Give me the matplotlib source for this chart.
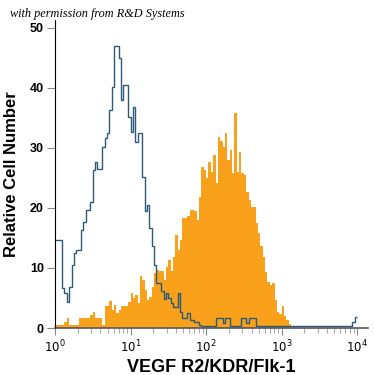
import numpy as np
import matplotlib
matplotlib.use("Agg")
import matplotlib.pyplot as plt
from matplotlib.ticker import LogLocator, NullFormatter, FixedLocator

# 128 log-spaced channels over four decades
decades = [0, 4]
n_bins = 128

# isotype control (outline), counts per channel
control_counts = [
    14.7, 14.7, 14.7, 6.7, 5.8, 4.4, 6.9, 10.5, 12.5, 13.0,
    13.0, 16.3, 17.7, 19.7, 19.7, 21.0, 26.3, 27.7, 26.5, 26.5,
    30.2, 31.6, 32.5, 36.3, 40.2, 47.0, 47.0, 45.0, 38.0, 40.5,
    40.5, 35.2, 32.7, 36.8, 31.0, 32.5, 32.5, 25.2, 19.5, 20.5,
    16.7, 13.6, 10.5, 7.5, 7.5, 6.1, 4.8, 5.8, 5.0, 4.2,
    3.5, 3.5, 5.8, 2.7, 1.7, 1.7, 2.5, 1.3, 1.3, 1.0,
    1.0, 0.5, 0.4, 0.4, 0.4, 0.4, 0.4, 0.4, 1.6, 1.6,
    1.6, 0.8, 1.6, 1.6, 0.4, 0.4, 0.4, 0.4, 0.4, 1.6,
    1.6, 0.8, 1.6, 1.6, 1.6, 0.4, 0.4, 0.4, 0.4, 0.4,
    0.4, 0.4, 0.4, 0.4, 0.4, 0.4, 0.4, 0.4, 0.4, 0.4,
    0.4, 0.4, 0.4, 0.4, 0.4, 0.4, 0.4, 0.4, 0.4, 0.4,
    0.4, 0.4, 0.4, 0.4, 0.4, 0.4, 0.4, 0.4, 0.4, 0.4,
    0.4, 0.4, 0.4, 0.4, 0.4, 0.4, 1.0, 1.8,
]

# VEGF R2 stained cells (filled), counts per channel
stained_counts = [
    0.5, 0.5, 0.5, 0.5, 1.0, 1.6, 0.5, 0.5, 0.5, 0.5,
    1.6, 1.6, 1.6, 1.6, 1.6, 2.2, 2.6, 1.6, 1.6, 1.6,
    0.5, 3.6, 3.6, 4.5, 3.0, 3.8, 2.5, 3.0, 3.7, 3.6,
    3.6, 4.4, 5.8, 5.0, 5.5, 4.1, 8.6, 8.0, 6.3, 4.7,
    5.2, 6.9, 9.1, 9.7, 9.5, 9.5, 8.0, 10.2, 11.4, 9.5,
    11.9, 15.5, 13.0, 14.7, 18.3, 18.3, 18.6, 19.7, 19.7, 19.5,
    18.0, 21.9, 26.9, 26.3, 25.0, 27.7, 26.0, 28.8, 24.2, 31.8,
    31.1, 30.2, 32.4, 28.0, 29.7, 25.8, 35.8, 26.0, 29.4, 25.8,
    25.5, 22.7, 21.3, 20.2, 20.2, 17.5, 15.8, 13.6, 11.9, 9.4,
    7.7, 7.2, 7.5, 4.7, 2.7, 2.4, 3.6, 2.0, 1.3, 0.6,
] + [0.0] * 28

y_ticks = [0, 10, 20, 30, 40, 50]
x_tick_labels = [r"$10^{0}$", r"$10^{1}$", r"$10^{2}$", r"$10^{3}$", r"$10^{4}$"]

edges = np.logspace(decades[0], decades[1], n_bins + 1)

fig = plt.figure(figsize=(3.75, 3.75), dpi=100)
ax = fig.add_axes([0.1467, 0.1253, 0.835, 0.8213])

ax.stairs(stained_counts, edges, fill=True, color="#F9A11B", linewidth=0)
ax.stairs(control_counts, edges, baseline=None, color="#2b5a7a", linewidth=1.0)

ax.set_xscale("log")
ax.set_xlim(1, 10 ** 4.146)
ax.set_ylim(0, 51.3)

ax.xaxis.set_major_locator(FixedLocator([10 ** k for k in range(5)]))
ax.set_xticklabels(x_tick_labels)
ax.xaxis.set_minor_locator(LogLocator(base=10, subs=np.arange(2, 10), numticks=20))
ax.xaxis.set_minor_formatter(NullFormatter())
ax.set_yticks(y_ticks)

for s in ["top", "right"]:
    ax.spines[s].set_visible(False)
ax.spines["left"].set_color("black")
ax.spines["bottom"].set_color("#555555")
ax.spines["bottom"].set_linewidth(1.2)

ax.tick_params(axis="y", length=6, width=0.8, color="#888888", pad=2,
               labelsize=9)
ax.tick_params(axis="x", which="major", length=5, width=0.8, color="#888888",
               labelsize=8.5, pad=3)
ax.tick_params(axis="x", which="minor", length=3.5, width=0.8, color="#aaaaaa")
for lab in ax.get_yticklabels():
    lab.set_fontweight("bold")
    lab.set_family(["Liberation Sans", "DejaVu Sans"])

bold_sans = ["Liberation Sans", "DejaVu Sans"]
ax.set_ylabel("Relative Cell Number", fontsize=12, fontweight="bold",
              family=bold_sans, labelpad=8)
ax.set_xlabel("VEGF R2/KDR/Flk-1", fontsize=13, fontweight="bold",
              family=bold_sans, labelpad=2)

fig.text(0.027, 0.963, "with permission from R&D Systems", fontsize=8.8,
         style="italic", family=["Liberation Serif", "DejaVu Serif"],
         va="center", ha="left")

fig.savefig("out.png", dpi=100)
